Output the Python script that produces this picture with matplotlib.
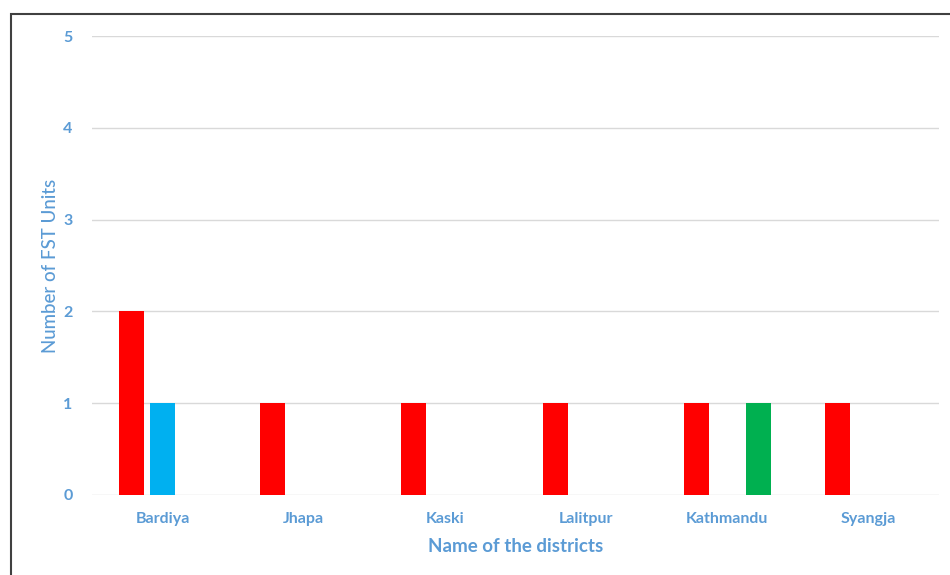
import matplotlib.pyplot as plt
import numpy as np
from matplotlib.patches import Rectangle

# Data
districts = ["Bardiya", "Jhapa", "Kaski", "Lalitpur", "Kathmandu", "Syangja"]
series_red = [2, 1, 1, 1, 1, 1]
series_cyan = [1, 0, 0, 0, 0, 0]
series_green = [0, 0, 0, 0, 1, 0]

text_color = "#5B9BD5"
plt.rcParams['font.family'] = ['Lato', 'DejaVu Sans']

fig = plt.figure(figsize=(9.5, 5.75), dpi=100)
ax = fig.add_axes([92 / 950, 1 - 495 / 575, (939 - 92) / 950, (495 - 36) / 575])

x = np.arange(len(districts))
w = 0.177
off = 0.22
ax.bar(x - off, series_red, width=w, color="#FF0000", zorder=3)
ax.bar(x, series_cyan, width=w, color="#00B0F0", zorder=3)
ax.bar(x + off, series_green, width=w, color="#00B050", zorder=3)

ax.set_xlim(-0.5, len(districts) - 0.5)
ax.set_ylim(0, 5)
ax.set_yticks(range(6))
ax.set_xticks(x)
ax.set_xticklabels(districts)
ax.yaxis.grid(True, color="#D9D9D9", linewidth=1, zorder=0)
ax.set_axisbelow(True)
for s in ax.spines.values():
    s.set_visible(False)
ax.tick_params(length=0, labelsize=11.5, labelcolor=text_color)
ax.tick_params(axis='y', pad=14)
ax.tick_params(axis='x', pad=12)
for lbl in ax.get_xticklabels() + ax.get_yticklabels():
    lbl.set_fontweight('bold')

ax.set_ylabel("Number of FST Units", color=text_color, fontsize=13.5, fontweight='medium', labelpad=3)
ax.set_xlabel("Name of the districts", color=text_color, fontsize=13.5, fontweight='bold', labelpad=9)

# outer frame of the original screenshot
fig.patches.append(Rectangle((11 / 950, -0.1), 1.2, 1.1 - 14 / 575, transform=fig.transFigure,
                             fill=False, edgecolor="#404040", linewidth=1.5))

fig.savefig("out.png", dpi=100)
